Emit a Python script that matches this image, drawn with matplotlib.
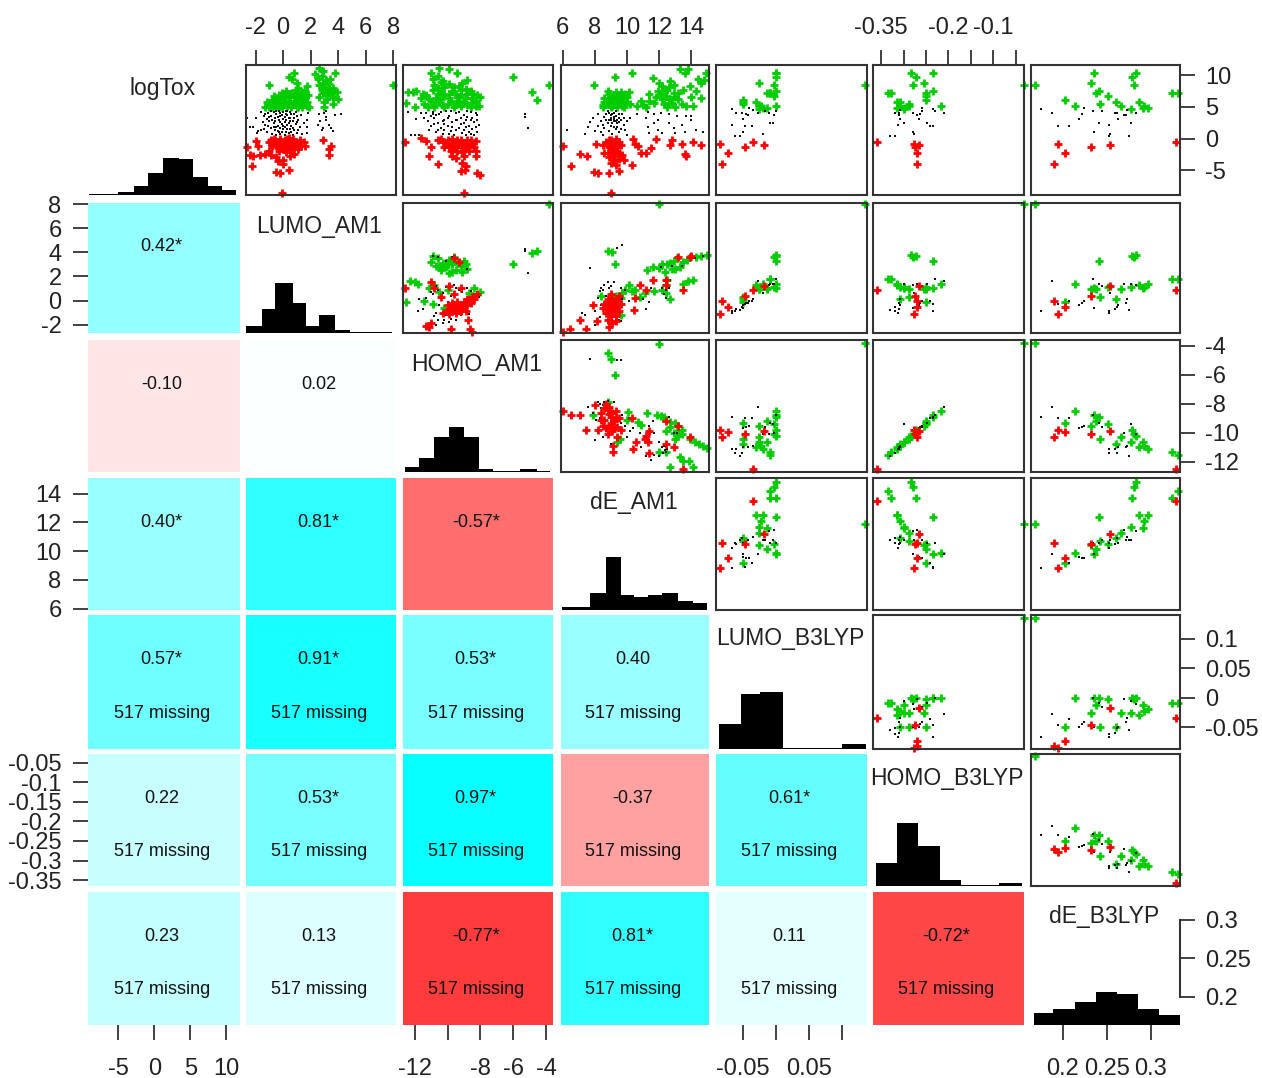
import numpy as np
import matplotlib
matplotlib.use("Agg")
import matplotlib.pyplot as plt

plt.rcParams["font.family"] = ["Liberation Sans", "DejaVu Sans"]

names = ["logTox", "LUMO_AM1", "HOMO_AM1", "dE_AM1", "LUMO_B3LYP", "HOMO_B3LYP", "dE_B3LYP"]

# axis ranges of each variable
x_lims = [(-9.2, 11.9), (-2.7, 8.2), (-12.7, -3.6), (5.9, 15.1), (-0.091, 0.138), (-0.368, -0.032), (0.164, 0.333)]
y_lims = [(-8.9, 11.6), (-2.7, 8.1), (-12.7, -3.6), (5.9, 15.1), (-0.087, 0.14), (-0.365, -0.028), (0.163, 0.336)]

# correlations of the lower triangle, * = significant
cor_text = [
    [],
    ["0.42*"],
    ["-0.10", "0.02"],
    ["0.40*", "0.81*", "-0.57*"],
    ["0.57*", "0.91*", "0.53*", "0.40"],
    ["0.22", "0.53*", "0.97*", "-0.37", "0.61*"],
    ["0.23", "0.13", "-0.77*", "0.81*", "0.11", "-0.72*"],
]
missing_text = "517 missing"

# histograms on the diagonal: bin edges, bar heights
hist_edges = [
    [-9, -5, -2.8, -0.9, 1.2, 3.4, 5.4, 7.4, 9.4, 11.3],
    [-2.7, -1.55, -0.6, 0.7, 1.65, 2.6, 3.75, 4.85, 7.9],
    [-12.6, -11.7, -10.8, -9.9, -9, -8.1, -7.25, -5.6, -4.6, -3.8],
    [5.95, 7.7, 8.7, 9.6, 10.45, 11.3, 12.15, 13.2, 14.1, 15],
    [-0.086, -0.053, -0.024, 0.01, 0.1, 0.136],
    [-0.362, -0.314, -0.268, -0.22, -0.173, -0.088, -0.037],
    [0.167, 0.189, 0.214, 0.238, 0.261, 0.285, 0.309, 0.333],
]
hist_heights = [
    [0.7, 2.7, 9, 21.7, 37.3, 35.7, 18.3, 9.3, 5],
    [6.7, 24, 50, 30, 6.7, 18.3, 2.7, 1],
    [5, 14.3, 35, 45, 35, 2.7, 0.7, 2.7, 0.7],
    [3.3, 16.7, 53, 15, 13.3, 15, 16.7, 9.3, 6.7],
    [25, 55, 57.3, 1, 5],
    [22.7, 63.3, 40, 5.7, 1, 3.3],
    [11.7, 15.7, 23.3, 32.7, 30.7, 15.7, 10],
]

# compounds with B3LYP values: logTox, LUMO_AM1, HOMO_AM1, dE_AM1, LUMO_B3LYP, HOMO_B3LYP, dE_B3LYP
b3_green = [
    [8.45, 8.0, -3.83, 11.9, 0.135, -0.032, 0.168],
    [5.19, 1.4, -8.5, 9.9, 0.000, -0.216, 0.214],
    [6.07, -0.1, -9.3, 9.2, -0.050, -0.249, 0.202],
    [8.76, 0.95, -9.5, 10.45, -0.026, -0.255, 0.232],
    [10.26, 1.0, -8.8, 9.8, 0.000, -0.234, 0.235],
    [7.26, 0.95, -9.2, 10.15, -0.013, -0.249, 0.238],
    [7.57, 3.3, -8.9, 12.4, 0.000, -0.235, 0.241],
    [6.64, 1.1, -9.4, 10.5, -0.003, -0.249, 0.251],
    [5.45, 0.3, -10.4, 10.7, -0.050, -0.289, 0.242],
    [5.76, 0.1, -10.8, 10.9, -0.050, -0.308, 0.260],
    [5.19, 0.95, -10.3, 11.25, -0.026, -0.289, 0.266],
    [4.67, 1.1, -10.6, 11.7, -0.026, -0.298, 0.277],
    [9.64, 3.7, -9.8, 13.7, 0.000, -0.272, 0.279],
    [8.45, 3.6, -10.05, 14.45, -0.003, -0.279, 0.281],
    [10.26, 3.8, -10.2, 14.85, 0.000, -0.283, 0.283],
    [5.76, 1.3, -11.0, 12.5, -0.030, -0.314, 0.286],
    [4.88, 1.0, -10.6, 11.6, -0.013, -0.298, 0.291],
    [5.1, 1.1, -10.9, 12.1, -0.022, -0.308, 0.292],
    [4.88, 1.4, -11.1, 12.5, -0.019, -0.314, 0.297],
    [7.26, 1.8, -11.35, 13.7, -0.009, -0.329, 0.324],
    [7.26, 1.8, -11.5, 14.2, -0.009, -0.334, 0.331],
]
b3_black = [
    [4.67, -0.9, -8.9, 8.85, -0.066, -0.235, 0.175],
    [3.96, 1.6, -8.2, 9.8, -0.027, -0.211, 0.188],
    [1.93, -0.3, -9.0, 8.9, -0.047, -0.235, 0.195],
    [1.93, 0.0, -9.0, 9.2, -0.037, -0.241, 0.207],
    [3.12, -0.4, -9.7, 9.6, -0.050, -0.265, 0.218],
    [3.9, -0.2, -9.6, 9.5, -0.045, -0.263, 0.222],
    [4.8, 0.0, -9.5, 9.5, -0.041, -0.260, 0.224],
    [4.31, 1.8, -8.8, 10.6, 0.000, -0.231, 0.234],
    [1.06, -0.6, -10.1, 9.8, -0.050, -0.279, 0.235],
    [2.5, 1.4, -9.3, 10.6, -0.009, -0.248, 0.241],
    [4.31, 1.2, -9.6, 10.8, -0.016, -0.259, 0.244],
    [2.19, -1.0, -11.1, 10.2, -0.066, -0.313, 0.252],
    [0.44, -0.9, -11.4, 10.6, -0.062, -0.320, 0.252],
    [0.69, 0.6, -10.1, 10.8, -0.020, -0.277, 0.254],
    [4.1, -0.7, -11.1, 10.5, -0.060, -0.311, 0.259],
    [3.12, -0.4, -11.0, 10.6, -0.050, -0.308, 0.263],
    [4.1, -0.5, -11.4, 10.9, -0.052, -0.320, 0.261],
    [3.64, 1.4, -10.0, 11.5, -0.003, -0.270, 0.270],
    [4.5, 0.1, -10.9, 11.0, -0.035, -0.307, 0.273],
    [3.64, -0.2, -11.0, 10.8, -0.042, -0.311, 0.272],
    [0.44, -0.8, -11.6, 10.8, -0.054, -0.330, 0.275],
    [2.5, 1.4, -9.4, 10.8, -0.005, -0.300, 0.277],
    [3.96, 1.3, -10.1, 11.4, -0.010, -0.280, 0.283],
]
b3_red = [
    [-0.5, 0.9, -12.47, 13.5, -0.035, -0.358, 0.329],
    [-4.06, 0.0, -10.3, 10.6, -0.082, -0.270, 0.190],
    [-0.8, -1.1, -9.82, 8.86, -0.085, -0.277, 0.195],
    [-2.3, -0.5, -9.96, 9.5, -0.073, -0.269, 0.202],
    [-1.37, 0.34, -10.1, 10.5, -0.047, -0.274, 0.232],
    [-1.06, 1.23, -9.9, 11.2, -0.018, -0.265, 0.254],
]

# AM1 panels, read panel by panel as (x, y)
lumo_tox_green = [(-1.0, 8.5), (0.45, 9.7), (0.8, 10.3), (0.65, 9.4), (1.0, 8.8), (1.7, 8.3), (1.6, 7.5), (1.8, 6.8), (1.3, 7.0), (-0.7, 6.7), (-1.2, 5.7), (-1.35, 4.9), (-1.0, 5.0), (-0.9, 5.6), (-0.6, 5.2), (-0.5, 6.0), (-0.3, 6.9), (-0.1, 7.2), (0.1, 6.6), (0.0, 5.6), (-0.3, 5.0), (0.3, 5.1), (0.4, 6.0), (0.6, 7.2), (0.8, 6.5), (0.7, 5.4), (1.0, 5.0), (1.1, 5.9), (1.3, 6.3), (1.5, 5.4), (1.7, 5.8), (1.9, 5.0), (1.4, 4.9), (-0.8, 4.9), (-0.1, 5.0), (0.9, 7.6), (1.1, 7.9), (0.2, 7.5), (2.6, 11.1), (2.3, 10.2), (2.9, 10.6), (3.8, 10.3), (2.5, 9.4), (3.1, 9.2), (2.9, 8.7), (3.4, 9.4), (2.6, 8.4), (3.3, 8.0), (2.8, 7.7), (3.6, 8.0), (3.4, 7.2), (3.9, 7.4), (4.0, 6.2), (2.6, 6.5), (3.1, 6.8), (3.6, 6.5), (3.0, 5.8), (3.6, 5.4), (3.0, 5.0), (2.9, 7.2), (8.0, 8.45),
                  (-1.1, 5.3), (-0.8, 6.1), (-0.7, 5.6), (-0.4, 5.6), (-0.2, 6.3), (-0.1, 5.3), (0.1, 6.0), (0.2, 5.6), (0.3, 6.9), (0.5, 5.6), (0.5, 6.6), (0.9, 5.7), (0.9, 7.0), (1.2, 5.4), (1.2, 6.7), (1.5, 6.1), (1.6, 6.6), (1.7, 5.1), (0.6, 5.0), (-0.5, 5.0), (1.1, 5.0), (1.4, 7.4), (2.8, 9.8), (3.3, 8.6), (3.0, 8.2), (3.2, 7.5), (3.2, 6.2), (3.5, 6.9), (3.7, 7.5)]
lumo_tox_black = [(-2.6, 3.2), (-2.4, 1.8), (-2.2, 1.8), (-2.0, 3.3), (-1.9, 0.9), (-1.8, 1.2), (-1.6, 4.2), (-1.6, 1.4), (-1.5, 2.6), (-1.4, 3.6), (-1.3, 2.2), (-1.2, 3.1), (-1.2, 1.0), (-1.1, 4.1), (-1.0, 2.7), (-0.9, 1.7), (-0.9, 3.6), (-0.8, 0.7), (-0.7, 4.2), (-0.7, 2.4), (-0.6, 3.2), (-0.6, 1.3), (-0.5, 0.6), (-0.5, 3.9), (-0.4, 2.0), (-0.3, 4.4), (-0.3, 2.9), (-0.3, 1.1), (-0.2, 3.5), (-0.2, 0.7), (-0.1, 2.3), (0, 4.2), (0, 1.5), (0, 3.1), (0.1, 0.5), (0.1, 2.6), (0.2, 3.8), (0.2, 1.1), (0.3, 4.4), (0.3, 2.1), (0.4, 3.3), (0.4, 0.8), (0.5, 2.7), (0.5, 1.5), (0.6, 3.9), (0.6, 2.0), (0.7, 0.6), (0.8, 3.2), (0.8, 1.3), (0.9, 4.2), (0.9, 2.3), (1.0, 0.9), (1.1, 3.0), (1.2, 1.8), (1.3, 3.7), (1.4, 0.7), (1.5, 2.4), (1.7, 2.9), (1.7, 1.9), (1.7, 0.8), (1.8, 4.1), (2.6, 3.9), (2.7, 2.7), (2.5, 2.2), (3.0, 4.0), (3.1, 3.4), (3.1, 3.0), (3.3, 2.1), (3.5, 1.7), (3.6, 1.2), (2.9, 1.6), (3.1, 4.3), (3.8, 3.7), (4.2, 3.9), (2.8, 1.3),
                  (-0.9, 4.3), (-0.8, 3.0), (-0.7, 1.9), (-0.6, 2.7), (-0.5, 4.3), (-0.5, 1.8), (-0.4, 3.4), (-0.4, 1.2), (-0.2, 4.1), (-0.2, 2.6), (-0.2, 1.6), (-0.1, 3.7), (-0.1, 1.1), (0, 2.0), (0.1, 3.4), (0.1, 1.8), (0.2, 4.3), (0.2, 2.9), (0.3, 3.7), (0.3, 1.5), (0.4, 2.4), (0.5, 4.2), (0.5, 3.2), (0.6, 1.1), (0.7, 2.8), (0.7, 1.6), (0.8, 3.8), (1.0, 2.6), (1.0, 3.5), (1.1, 1.4), (-1.0, 3.4), (-1.1, 2.0), (-1.3, 3.8), (-1.4, 1.5)]
lumo_tox_red = [(-2.6, -1.3), (-2.4, -2.6), (-2.2, -2.8), (-2.3, -4.3), (-2.0, -0.4), (-1.8, -1.2), (-1.7, -2.6), (-1.3, -2.5), (-0.9, -2.6), (-0.5, -2.9), (-0.4, -3.6), (-0.0, -4.0), (0.0, -3.4), (-0.2, -5.4), (-0.5, -5.3), (0.4, -4.9), (-0.1, -8.6), (-1.0, -0.6), (-0.8, -1.2), (-0.6, -0.3), (-0.4, -1.0), (-0.2, -0.4), (0, -1.2), (0.2, -0.6), (0.4, -1.4), (0.2, -2.1), (-0.3, -1.9), (0.6, -0.4), (0.8, -1.2), (1.0, -0.8), (1.1, -1.6), (1.3, -1.2), (1.5, -0.6), (0.8, -2.4), (0.5, -2.8), (-1.0, -2.0), (1.6, -1.2), (2.9, -0.2), (3.5, -1.1), (3.3, -1.7), (3.3, -2.6), (-0.7, 0.0), (0.4, 0.1),
                (-0.9, -0.2), (-0.5, -0.7), (-0.1, -0.8), (0.1, -0.2), (0.3, -1.0), (0.5, -0.8), (0.7, -0.1), (0.0, -1.6), (-0.4, -1.5), (0.6, -1.7), (0.9, -0.5), (1.2, -0.3), (-0.7, -0.7), (0.3, 0.0), (-0.2, 0.0)]

homo_tox_green = [(-10.5, 11.1), (-11, 10.3), (-9.9, 10.9), (-9.4, 10.3), (-10.6, 9.9), (-10.9, 9.4), (-10.3, 9.0), (-10.8, 8.5), (-8.8, 9.3), (-9.1, 8.7), (-9.6, 8.1), (-10.2, 8.2), (-12.1, 7.4), (-12.4, 7.3), (-11.9, 7.5), (-11.5, 7.0), (-10.9, 7.7), (-10.4, 7.3), (-9.9, 7.0), (-9.2, 7.7), (-8.9, 7.8), (-8.6, 7.5), (-8.5, 7.0), (-11.6, 6.4), (-12.5, 5.6), (-12, 4.9), (-11.4, 5.4), (-11.1, 6.3), (-10.8, 5.3), (-10.4, 6.3), (-10.2, 5.0), (-9.8, 5.9), (-9.4, 6.5), (-9.2, 5.2), (-8.9, 6.4), (-8.6, 5.6), (-8.3, 6.0), (-8.1, 5.1), (-8.0, 6.6), (-9.6, 4.9), (-10.8, 4.9), (-11.0, 5.9), (-8.6, 4.9), (-6, 9.7), (-3.85, 8.45), (-4.9, 7.3), (-4.55, 6.1),
                  (-10.6, 7.0), (-10.7, 6.4), (-10.5, 5.7), (-10.2, 6.8), (-10.0, 5.4), (-9.9, 6.4), (-9.7, 7.5), (-9.5, 5.4), (-9.3, 5.9), (-9.2, 6.9), (-9.0, 5.7), (-8.8, 7.0), (-8.8, 5.3), (-8.5, 6.4), (-8.3, 5.2), (-8.2, 6.9), (-10.6, 8.0), (-10.4, 8.9), (-9.9, 8.6), (-9.3, 8.3), (-10.3, 5.3), (-11.2, 5.0), (-11.3, 6.9), (-9.5, 7.1)]
homo_tox_black = [(-12.4, 4.2), (-12.2, 0.5), (-12, 0.6), (-11.9, 3.1), (-11.7, 0.6), (-11.6, 4.1), (-11.4, 3.3), (-11.2, 2.7), (-11.0, 2.0), (-11.1, 1.4), (-10.9, 4.2), (-10.8, 3.2), (-10.7, 1.0), (-10.6, 2.4), (-10.5, 3.8), (-10.4, 1.7), (-10.3, 0.7), (-10.2, 3.0), (-10.1, 4.4), (-10, 2.0), (-9.9, 3.6), (-9.8, 1.2), (-9.7, 2.6), (-9.6, 0.6), (-9.5, 4.0), (-9.4, 3.0), (-9.3, 1.7), (-9.2, 2.3), (-9.1, 0.8), (-9.0, 3.7), (-9, 1.3), (-8.9, 2.9), (-8.8, 4.3), (-8.7, 2.0), (-8.6, 0.7), (-8.5, 3.3), (-8.5, 1.5), (-8.4, 2.6), (-8.3, 4.0), (-8.2, 1.0), (-8.2, 3.0), (-8.1, 2.1), (-8.4, 0.5), (-8.9, 0.5), (-10.9, 3.8), (-11.3, 4.0), (-5.3, 3.9), (-5.3, 3.4), (-5.1, 1.6),
                  (-10.8, 2.3), (-10.7, 3.7), (-10.6, 1.4), (-10.4, 4.2), (-10.3, 2.7), (-10.2, 1.3), (-10.0, 3.3), (-9.9, 0.7), (-9.8, 4.3), (-9.7, 1.8), (-9.5, 3.0), (-9.5, 1.4), (-9.3, 4.2), (-9.2, 3.3), (-9.0, 2.4), (-8.9, 1.8), (-8.8, 3.4), (-8.7, 1.1), (-8.6, 4.2), (-8.6, 2.9), (-8.3, 1.9), (-8.2, 3.7), (-10.2, 2.3), (-11.0, 3.5)]
homo_tox_red = [(-12.6, -0.5), (-11.6, 0.1), (-11.3, -0.4), (-11, -1.3), (-11.1, -2.8), (-10.6, -4), (-10.6, -0.2), (-10.3, -0.6), (-10, -0.2), (-9.7, -0.7), (-9.4, -0.2), (-9.1, -0.7), (-8.8, -0.3), (-8.5, -0.7), (-10.2, -1.3), (-9.9, -1.3), (-9.5, -1.2), (-9.2, -1.3), (-8.8, -1.3), (-8.4, -1.3), (-9.8, -2.0), (-9.4, -2.0), (-9.1, -2.1), (-8.7, -2.0), (-8.3, -2.0), (-9.7, -2.7), (-9.5, -3.0), (-9.0, -2.7), (-8.3, -2.7), (-9.1, -3.9), (-8.9, -4.3), (-9.2, -5.1), (-8.95, -4.9), (-8.2, -5.4), (-8.05, -5.8), (-9.0, -8.6),
                (-10.4, -0.1), (-10.0, -0.8), (-9.7, -0.1), (-9.5, -0.6), (-9.2, -0.3), (-8.9, -0.8), (-8.6, -0.2), (-8.3, -0.4), (-9.7, -1.3), (-9.3, -0.9), (-8.6, -1.0), (-9.6, -1.7), (-9.0, -1.6)]

de_tox_green = [(7.95, 8.45), (9.25, 9.7), (10.3, 10.3), (8.5, 5.0), (8.6, 5.7), (8.6, 6.4), (8.9, 7.0), (9.1, 5.2), (9.1, 6.3), (9.3, 7.3), (9.5, 5.6), (9.5, 6.8), (9.8, 5.0), (9.8, 6.0), (9.9, 7.1), (10.2, 5.5), (10.1, 7.4), (9.0, 5.0), (9.4, 4.9), (8.8, 7.5), (10.6, 5.2), (10.9, 6.0), (11.2, 5.0), (11.4, 6.0), (11.4, 7.0), (11.6, 9.5), (12.0, 8.8), (11.9, 7.5), (12.2, 6.2), (12.5, 5.0), (12.5, 7.7), (12.2, 8.3), (12.7, 6.3), (12.9, 7.2), (12.7, 9.0), (12.9, 8.4), (13.3, 10.9), (13.6, 10.3), (13.8, 11), (13.2, 6.2), (13.5, 7.7), (13.7, 5.2), (13.9, 8.3), (14.0, 6.5), (14.4, 9.4), (14.6, 8.7), (14.8, 9.3), (14.9, 10.3), (14.3, 7.5), (14.1, 5.2), (14.6, 6.4), (13.0, 5.0),
                (8.8, 5.5), (8.8, 6.2), (9.0, 5.8), (9.2, 6.7), (9.3, 5.4), (9.4, 6.2), (9.7, 5.2), (9.7, 6.5), (9.6, 7.3), (10.0, 5.8), (10.0, 6.6), (8.5, 5.3), (11.0, 5.3), (11.7, 5.6), (11.8, 6.6), (12.1, 7.0), (12.3, 5.5), (12.4, 6.7), (12.6, 5.6), (12.8, 5.6), (12.3, 7.6), (12.6, 8.2), (13.0, 6.5), (13.2, 7.2), (13.4, 5.5)]
de_tox_black = [(6.25, 1.3), (7.4, 0.7), (7.6, 1.8), (7.7, 2.6), (7.9, 3.2), (8.0, 1.2), (8.2, 2.0), (8.2, 3.8), (8.4, 1.0), (8.4, 2.8), (8.5, 0.5), (8.6, 3.4), (8.6, 1.7), (8.8, 4.3), (8.8, 2.4), (8.9, 3.0), (8.9, 1.2), (9, 3.7), (9, 2.0), (9.1, 0.7), (9.2, 2.8), (9.2, 3.4), (9.2, 4.1), (9.3, 1.5), (9.4, 2.5), (9.5, 3.2), (9.5, 1.0), (9.7, 3.9), (9.8, 2.2), (10, 0.6), (10.2, 3.3), (10.6, 3.8), (11.3, 4.2), (11.2, 3.2), (11.3, 1.9), (11.4, 0.8), (11.7, 3.9), (11.7, 2.4), (11.9, 3.0), (11.9, 1.4), (12.1, 4.1), (12.2, 0.9), (12.6, 3.9), (12.6, 2.4), (12.9, 1.6), (13, 0.9), (13.1, 3.6), (13.4, 2.1), (13.6, 1.0), (13.7, 3.5), (14.0, 3.6), (14, 3.0), (14.3, 1.4), (14.7, 1.0),
                (8.9, 4.0), (9.0, 3.3), (9.1, 2.4), (9.1, 3.9), (9.2, 1.9), (9.2, 3.1), (9.3, 4.3), (9.3, 2.7), (9.3, 3.6), (9.4, 3.0), (9.4, 1.9), (9.5, 2.6), (9.5, 3.9), (9.6, 1.5), (9.6, 3.0), (9.0, 2.9), (8.7, 3.8), (8.7, 2.9), (8.5, 2.2), (9.8, 3.3), (9.9, 1.3), (10.0, 2.7)]
de_tox_red = [(6, -1.2), (6.5, -4.4), (7.1, -2.4), (7.5, -2.7), (7.95, -5.3), (8.2, -5.5), (8.1, -0.9), (8.5, -1.0), (8.6, -2.2), (8.9, -1.4), (8.9, -0.2), (9.1, -0.9), (9.3, -0.1), (9.4, -1.3), (9.1, -2.3), (8.9, -2.9), (9.5, -2.2), (9.5, -3.2), (9.2, -3.4), (9.0, -3.9), (9.3, -4.2), (8.9, -5.4), (9.5, -5.1), (9.0, -8.6), (10.3, -4.1), (10.4, -0.0), (10.5, -0.8), (10.7, -1.1), (10.9, -2.2), (11.2, -2.2), (11.5, -1.5), (11.8, -0.1), (12.8, -0.3), (12.7, -1.0), (13.4, -0.9), (13.6, -2.5), (13.7, -2.8), (14.1, -0.5), (14.6, -1.0),
              (9.0, -0.3), (9.2, -1.3), (9.0, -1.7), (9.3, -0.6), (9.5, -0.5), (9.6, -1.0), (8.7, -0.6), (9.2, -2.7), (9.7, -2.6), (9.4, -1.9), (8.8, -2.3), (9.8, -3.4)]

homo_lumo_green = [(-3.85, 8), (-4.9, 3.95), (-4.55, 4.1), (-6, 3), (-10.9, 3.7), (-10.6, 3.5), (-10.3, 3.1), (-10.1, 2.8), (-10.4, 2.5), (-9.9, 3.4), (-9.7, 3.0), (-9.5, 2.5), (-9.2, 2.9), (-9.0, 3.3), (-8.8, 2.6), (-9.6, 3.6), (-9.9, 2.3), (-10.7, 2.9), (-12.3, 1.6), (-12, 1.5), (-11.8, 1.4), (-12.5, -0.1), (-11.1, 1.0), (-10.8, 1.3), (-10.5, 0.7), (-10, 0.9), (-8.7, 0.6), (-8.0, 0.7), (-8.4, 1.0), (-11.4, 0.0), (-10.9, -0.3), (-10.2, -0.6), (-9.5, -0.9),
                   (-10.5, 2.9), (-10.0, 3.1), (-9.7, 2.4), (-9.4, 3.2), (-9.1, 2.4), (-8.9, 3.0), (-11.0, 3.2)]
homo_lumo_black = [(-5.3, 4.3), (-5.3, 4.1), (-5.1, 2.3), (-10.9, 3.7), (-10.6, 3.6), (-9.7, 3.6), (-9.3, 3.1), (-8.8, 2.6), (-10.1, 3.3), (-11.5, -0.7), (-11.8, -0.9), (-11.3, 0.2), (-11, 0.7), (-10.7, 1.2), (-10.4, 0.2), (-10.1, 1.1), (-9.8, 0.4), (-9.5, 1.0), (-9.1, 0.7), (-8.8, 1.0), (-8.4, 0.5), (-8.1, 0.3), (-10.8, -1.3), (-10.6, -1.6), (-10.3, -1.9), (-10.7, -1.0), (-10.1, -1.2), (-9.8, -1.5), (-9.5, -0.5), (-9.2, -1.2), (-8.9, -0.7), (-9.0, -0.1), (-8.5, -0.3), (-9.7, -0.3), (-10.0, -0.1), (-8.7, -1.1), (-9.5, -1.6), (-10.9, 0.5), (-11.7, 0.1),
                   (-10.6, 0.9), (-10.3, 0.6), (-9.9, 1.4), (-9.6, 1.3), (-9.3, 0.9), (-8.6, 0.8), (-10.5, -0.4), (-10.2, -1.6), (-9.9, -1.8), (-9.3, -0.8), (-8.4, 0.0), (-10.7, -2.0)]
homo_lumo_red = [(-12.6, 1.0), (-11, 1.5), (-9.9, 1.2), (-9.2, 1.0), (-10.8, 1.0), (-9.6, 3.5), (-9.3, 3.2), (-10.4, 0.3), (-9.6, 0.5), (-10.3, -1.0), (-10.0, -0.9), (-9.8, -0.6), (-9.5, -0.7), (-9.2, -0.4), (-9.0, -0.1), (-8.8, 0.1), (-8.5, 0.3), (-8.2, 0.5), (-9.7, -0.2), (-9.4, -0.1), (-9.1, -0.6), (-8.8, -0.4), (-8.6, -0.2), (-9.9, -1.1), (-9.5, -1.0), (-10.0, -0.4), (-11, -1.9), (-11.3, -2.1), (-11.1, -2.2), (-9.8, -2.4), (-8.66, -2.4), (-8.5, -2.6), (-8.76, -1.6), (-9.9, -0.7),
                 (-9.6, -0.4), (-9.3, -0.6), (-9.0, -0.4), (-8.7, 0.0), (-8.4, 0.1), (-9.2, -0.9), (-9.7, -0.9), (-8.9, -0.9)]

de_lumo_green = [(12, 8), (8.85, 4.1), (9.05, 4.0), (9.25, 3.0), (11.6, 2.8), (12.15, 3), (12.7, 3.1), (13.1, 3.5), (13.3, 2.8), (12.8, 2.6), (12.35, 2.4), (11.25, 2.5), (13.75, 3.4), (14.3, 3.6), (14.95, 3.8), (14.6, 3.7), (12.15, 0.9), (12.5, 1.7), (13.5, 1.4), (14.1, 1.7), (13.8, 1.65), (12.7, 0.1), (11.7, 0.8), (10.1, 1.3), (9.6, 0.2), (10.5, 0.9), (8.4, 0.4), (8.8, -0.7), (11.1, 0.6), (9.65, -1.2), (12.4, 1.3), (10.3, 0.8), (10.8, 0.3),
                 (12.5, 3.0), (12.9, 3.3), (13.0, 2.6), (13.5, 3.2), (12.0, 2.7), (12.4, 0.6), (9.9, 0.9), (9.7, 0.6), (9.3, 0.4)]
de_lumo_black = [(7.7, 2.7), (9.35, 4.4), (9.7, 4.6), (8.0, -0.9), (8.2, 0.2), (8.3, -1.4), (8.4, -0.4), (8.5, 0.9), (8.6, -1.1), (8.7, 0.4), (8.8, -1.8), (8.9, 1.0), (9.0, -0.2), (9.1, 0.6), (9.2, -1.3), (9.4, 0.3), (9.5, -1.6), (9.7, 0.1), (9.9, 0.9), (10.1, 0.0), (7.4, -1.2), (7.2, -1.0), (11.2, 0.9), (11.0, 0.1), (11.4, -0.1), (11.5, 1.0), (11.2, -0.7), (12.2, 1.0), (12.3, 0.5), (12.5, 1.5), (12.6, 1.0), (12.4, 0.2), (12.1, 2.8), (13.4, 2.9), (12.8, 2.9), (14.2, 3.5), (14.7, 3.7), (8.0, -2.0), (9.6, -1.7),
                 (8.4, 1.0), (8.6, 1.3), (8.8, 1.5), (9.0, 1.2), (9.2, 1.5), (8.3, 0.8), (8.1, -0.4), (9.6, 1.0), (12.4, 0.9), (12.7, 1.7)]
de_lumo_red = [(6, -2.6), (6.45, -2.4), (7.45, -2.4), (7.1, -1.6), (8.15, -1.7), (7.9, -0.35), (10.45, -0.8), (13.5, 0.9), (12.4, 1.3), (12.45, 1.7), (13.9, 3.6), (13.2, 3.6), (14.0, 3.7), (11.2, 0.9), (11.6, 1.7), (10.5, 0.2), (10.8, 1.3), (8.7, -1.0), (8.9, -0.6), (9.1, -0.2), (8.8, 0.1), (9.0, 0.5), (9.3, 0.1), (9.4, -0.5), (9.2, -0.9), (9.0, -1.3), (8.8, -1.6), (9.3, -1.3), (9.5, 0.4), (8.6, -0.3), (8.5, -0.6), (9.1, -1.9), (8.9, -2.2), (9.6, -0.3),
               (8.9, -0.1), (9.2, -0.4), (9.0, -0.8), (8.7, -0.4), (9.4, 0.0), (9.1, 0.2), (9.3, -1.7), (8.9, -1.0), (9.5, -0.9)]

de_homo_green = [(12, -3.85), (8.8, -4.5), (9, -4.9), (9.25, -6), (10.05, -8.55), (10, -9.1), (11.25, -8.6), (11.85, -8.8), (12.25, -9.0), (12.65, -9.25), (13.2, -9.5), (13.4, -9.8), (13.2, -10.2), (13, -10.4), (12.45, -9.9), (13.9, -10.4), (14.45, -10.75), (14.75, -10.9), (15, -11.05), (12.45, -11.3), (12.0, -11.3), (13.3, -11.65), (13.5, -11.95), (13.85, -11.95), (12.65, -12.35), (14.1, -12.35), (10.7, -9.25), (10.85, -9.45), (9.35, -10.6), (8.85, -7.9), (7.9, -8.8), (9.55, -10.4), (12.3, -8.9), (13.0, -9.3),
                 (13.1, -9.9), (12.9, -10.0), (12.7, -9.6), (14.2, -10.6), (13.4, -10.1), (12.1, -8.85)]
de_homo_black = [(7.7, -4.9), (9.35, -5), (9.65, -5), (7.6, -8.2), (7.9, -8.6), (8.1, -9.1), (8.2, -7.9), (8.4, -8.3), (8.6, -7.9), (8.8, -7.8), (8.0, -10.5), (8.5, -10.3), (9.0, -10.8), (8.7, -9.9), (9.2, -7.9), (9.6, -9.3), (9.9, -9.5), (10.2, -9.9), (10.0, -10.3), (10.4, -9.7), (10.8, -10.0), (11.1, -10.3), (11.4, -9.5), (11.7, -10.0), (11.6, -9.2), (12.0, -10.6), (12.3, -10.9), (12.5, -11.1), (12.4, -11.3), (12.2, -11.0), (11.2, -11.6), (11.5, -11.9), (10.9, -11.0), (12.0, -11.6), (11.7, -11.5), (12.9, -10.0), (13.1, -10.0), (12.6, -8.9),
                 (12.35, -11.2), (12.25, -11.4), (12.45, -11.0), (8.3, -8.0), (8.5, -8.1), (8.9, -8.0), (9.1, -8.3), (8.3, -9.0), (9.7, -8.8), (10.1, -9.0)]
de_homo_red = [(6, -8.5), (6.5, -8.75), (7.1, -8.75), (7.45, -9.8), (8.2, -9.8), (8, -8.1), (8.4, -8.6), (8.6, -9.1), (8.8, -8.4), (9.0, -8.9), (9.3, -8.5), (8.5, -9.5), (8.9, -9.5), (9.2, -9.2), (9.5, -9.0), (9.6, -9.8), (8.8, -10.1), (9.1, -9.9), (9.4, -10.3), (8.7, -8.0), (9.15, -11.3), (9.15, -10.9), (10.4, -11.1), (11.4, -11.4), (10.55, -10.6), (10.3, -9.0), (11.2, -10.2), (11.4, -9.9), (11.3, -10.6), (12.45, -10.75), (12.45, -9.2), (13.2, -9.5), (13.9, -10.3), (12.9, -11), (13.5, -12.5), (11.1, -10.4),
               (8.6, -8.3), (8.9, -8.7), (9.1, -8.6), (9.3, -9.0), (8.7, -9.7), (8.9, -8.2), (9.4, -9.6), (9.0, -9.3), (9.2, -9.7), (8.4, -9.1)]

am1_panels = {
    (0, 1): (lumo_tox_green, lumo_tox_black, lumo_tox_red),
    (0, 2): (homo_tox_green, homo_tox_black, homo_tox_red),
    (0, 3): (de_tox_green, de_tox_black, de_tox_red),
    (1, 2): (homo_lumo_green, homo_lumo_black, homo_lumo_red),
    (1, 3): (de_lumo_green, de_lumo_black, de_lumo_red),
    (2, 3): (de_homo_green, de_homo_black, de_homo_red),
}

# ticks on the outer margins: where they go and what is printed (R drops labels that would collide)
top_ticks = {
    1: ([-2, 0, 2, 4, 6, 8], ["-2", "0", "2", "4", "6", "8"]),
    3: ([6, 8, 10, 12, 14], ["6", "8", "10", "12", "14"]),
    5: ([-0.35, -0.3, -0.25, -0.2, -0.15, -0.1, -0.05], ["-0.35", "", "", "-0.2", "", "-0.1", ""]),
}
bottom_ticks = {
    0: ([-5, 0, 5, 10], ["-5", "0", "5", "10"]),
    2: ([-12, -10, -8, -6, -4], ["-12", "", "-8", "-6", "-4"]),
    4: ([-0.05, 0, 0.05, 0.1], ["-0.05", "", "0.05", ""]),
    6: ([0.2, 0.25, 0.3], ["0.2", "0.25", "0.3"]),
}
left_ticks = {
    1: ([-2, 0, 2, 4, 6, 8], ["-2", "0", "2", "4", "6", "8"]),
    3: ([6, 8, 10, 12, 14], ["6", "8", "10", "12", "14"]),
    5: ([-0.35, -0.3, -0.25, -0.2, -0.15, -0.1, -0.05], ["-0.35", "-0.3", "-0.25", "-0.2", "-0.15", "-0.1", "-0.05"]),
}
right_ticks = {
    0: ([-5, 0, 5, 10], ["-5", "0", "5", "10"]),
    2: ([-12, -10, -8, -6, -4], ["-12", "-10", "-8", "-6", "-4"]),
    4: ([-0.05, 0, 0.05, 0.1], ["-0.05", "0", "0.05", "0.1"]),
    6: ([0.2, 0.25, 0.3], ["0.2", "0.25", "0.3"]),
}

W, H = 1262, 1078
col_px = [(88, 240), (246, 396), (403, 553), (561, 709), (716, 867), (873, 1024), (1031, 1180)]
row_px = [(65, 195), (203, 333), (340, 472), (478, 610), (615, 749), (754, 886), (892, 1025)]
GREEN = "#00CD00"
RED = "#FF0000"
FRAME = "#333333"
TICK_SIZE = 17
TEXT_SIZE = 13


def shade(value):
    # cyan for positive, red for negative, paler towards zero
    v = 1 - abs(value)
    return (v, 1, 1) if value > 0 else (1, v, v)


def draw_points(ax, green, black, red):
    g = np.array(green)
    k = np.array(black)
    r = np.array(red)
    ax.plot(g[:, 0], g[:, 1], "+", color=GREEN, ms=5.8, mew=2.0, clip_on=False)
    ax.plot(k[:, 0], k[:, 1], "s", color="#111111", ms=1.5, mew=0)
    ax.plot(r[:, 0], r[:, 1], "+", color=RED, ms=5.8, mew=2.0, clip_on=False)


def add_ticks(ax, r, c):
    ax.tick_params(length=11, width=1.3, color=FRAME, labelsize=TICK_SIZE, labelcolor="#222222")
    ax.set_xticks([])
    ax.set_yticks([])
    if r == 0 and c in top_ticks:
        ax.set_xticks(top_ticks[c][0], top_ticks[c][1])
        ax.xaxis.tick_top()
        ax.tick_params(axis="x", pad=8)
    if r == 6 and c in bottom_ticks:
        ax.set_xticks(bottom_ticks[c][0], bottom_ticks[c][1])
        ax.tick_params(axis="x", pad=12.5)
    if c == 0 and r in left_ticks:
        ax.set_yticks(left_ticks[r][0], left_ticks[r][1])
        ax.tick_params(axis="y", pad=8)
    if c == 6 and r in right_ticks:
        ax.set_yticks(right_ticks[r][0], right_ticks[r][1])
        ax.yaxis.tick_right()
        ax.tick_params(axis="y", pad=7)


def draw_panel(fig, r, c):
    left, right = col_px[c]
    top, bottom = row_px[r]
    ax = fig.add_axes([left / W, 1 - bottom / H, (right - left) / W, (bottom - top) / H])
    ax.set_xlim(x_lims[c])
    ax.set_ylim(y_lims[r])
    for s in ax.spines.values():
        s.set_linewidth(1.5)
        s.set_color(FRAME)

    if r > c:
        # correlation cell
        label = cor_text[r][c]
        ax.set_facecolor(shade(float(label.rstrip("*"))))
        ax.spines[:].set_visible(False)
        ax.text(0.485, 0.665, label, transform=ax.transAxes, ha="center", va="center", fontsize=TEXT_SIZE, color="#111111")
        if r >= 4:
            ax.text(0.485, 0.265, missing_text, transform=ax.transAxes, ha="center", va="center", fontsize=TEXT_SIZE, color="#111111")
    elif r == c:
        # histogram cell
        ax.spines[:].set_visible(False)
        ax.patch.set_visible(False)
        edges = np.array(hist_edges[r])
        hx = ax.twinx()
        hx.set_ylim(0, bottom - top)
        hx.set_yticks([])
        hx.spines[:].set_visible(False)
        hx.bar(edges[:-1], hist_heights[r], width=np.diff(edges), align="edge", color="black", linewidth=0)
        if r == 6:
            ax.spines["right"].set_visible(True)
            ax.spines["right"].set_bounds(0.2, 0.3)
        ax.text(0.49, 1 - 24 / (bottom - top), names[r], transform=ax.transAxes, ha="center", va="center",
                fontsize=16.5, color="#222222")
    elif c >= 4:
        g = np.array(b3_green)
        k = np.array(b3_black)
        e = np.array(b3_red)
        draw_points(ax, g[:, [c, r]], k[:, [c, r]], e[:, [c, r]])
    else:
        draw_points(ax, *am1_panels[(r, c)])
    # twinx puts the host's ticks back on the left, so ticks come last
    add_ticks(ax, r, c)


def main():
    fig = plt.figure(figsize=(W / 100, H / 100), dpi=100)
    for r in range(7):
        for c in range(7):
            draw_panel(fig, r, c)
    fig.savefig("out.png", dpi=100)


if __name__ == "__main__":
    main()
